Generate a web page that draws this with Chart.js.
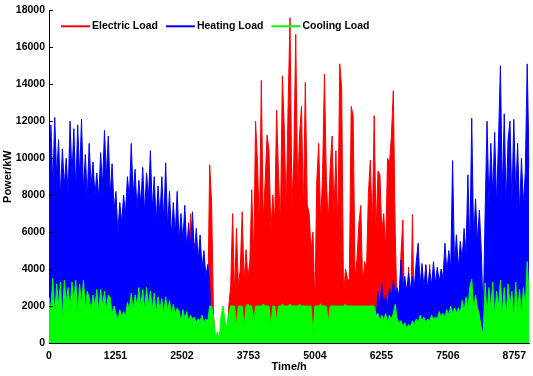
<!DOCTYPE html>
<html lang="en">
<head>
    <meta charset="UTF-8">
    <title>Electric / Heating / Cooling Load</title>
    <script src="https://cdn.jsdelivr.net/npm/chart.js"></script>
    <style>
        body { margin: 0; background: #fff; }
    </style>
</head>
<body>
    <canvas id="loadChart" width="533" height="376"></canvas>

    <script>
        // sampling step of the series (hours)
        const stepHours = 36;

        const xTicks = [0, 1251, 2502, 3753, 5004, 6255, 7506, 8757];

        const seriesNames = ["Electric Load", "Heating Load", "Cooling Load"];
        const seriesColors = ["#ff0000", "#0000ff", "#00ff00"];

        // === values (kW) ===
        const electricLoad = [
            200, 0, 200, 0, 300, 0, 200, 0, 100, 0,
            200, 0, 0, 300, 0, 0, 200, 0, 0, 100,
            0, 0, 200, 0, 0, 300, 0, 0, 200, 0,
            0, 200, 0, 0, 100, 0, 0, 300, 0, 0,
            200, 0, 0, 200, 0, 0, 100, 0, 0, 200,
            0, 0, 300, 0, 0, 200, 0, 0, 100, 0,
            0, 200, 0, 0, 300, 0, 0, 200, 0, 0,
            200, 300, 5600, 400, 7000, 500, 5400, 600, 2000, 800,
            3000, 1000, 2500, 2000, 9650, 7630, 1500, 200, 200, 200,
            200, 200, 200, 200, 2000, 3100, 7000, 2500, 6200, 3000,
            4000, 7100, 3200, 5050, 3500, 4400, 8300, 4500, 12000, 9750,
            6000, 14200, 6500, 8700, 11250, 10450, 6000, 8000, 6500, 12600,
            9000, 6500, 14450, 11600, 7000, 12850, 17600, 7500, 10000, 16700,
            8000, 11300, 12800, 7000, 14100, 7500, 7000, 5000, 6000, 2000,
            8800, 10800, 6500, 9000, 14550, 8800, 6500, 9500, 11200, 7000,
            10400, 6000, 15100, 13800, 2500, 4000, 3500, 3300, 12800, 12300,
            3500, 4500, 6450, 7450, 3000, 4400, 4000, 8150, 9900, 6000,
            12300, 6000, 9300, 9100, 6000, 7000, 5000, 10000, 9700, 11200,
            13650, 6000, 1500, 500, 4800, 6650, 500, 1000, 4100, 500,
            6950, 500, 300, 300, 300, 300, 300, 4250, 300, 4250,
            100, 0, 0, 100, 0, 0, 0, 100, 0, 0,
            0, 0, 0, 0, 0, 0, 0, 0, 0, 0,
            0, 0, 0, 0, 0, 0, 0, 0, 100, 200,
            150, 200, 100, 200, 150, 200, 100, 200, 150, 200,
            100, 200, 150, 200, 100, 200, 150, 200, 100, 200,
            150, 200
        ];

        const heatingLoad = [
            8000, 11800, 8500, 12200, 9000, 11000, 8000, 10500, 8500, 10000,
            8000, 12000, 9000, 11600, 8200, 11800, 9000, 12100, 8200, 10200,
            7800, 10800, 8500, 9800, 8000, 9200, 7800, 10300, 8500, 11500,
            9000, 11200, 8000, 9700, 7200, 8200, 5900, 7600, 6500, 8000,
            7000, 9000, 7800, 10800, 8000, 9400, 7200, 8800, 7500, 9500,
            7000, 9200, 7800, 10400, 7200, 9000, 6500, 8500, 6800, 9000,
            6500, 9750, 6200, 8200, 5800, 7600, 5800, 8200, 5500, 7000,
            5500, 7450, 5000, 6500, 5200, 7100, 4800, 6200, 4500, 5850,
            4000, 5000, 3600, 4250, 3200, 0, 0, 0, 0, 0,
            0, 0, 0, 0, 0, 0, 0, 0, 0, 0,
            0, 0, 0, 0, 0, 0, 0, 0, 0, 0,
            0, 0, 0, 0, 0, 0, 0, 0, 0, 0,
            0, 0, 0, 0, 0, 0, 0, 0, 0, 0,
            0, 0, 0, 0, 0, 0, 0, 0, 0, 0,
            0, 0, 0, 0, 0, 0, 0, 0, 0, 0,
            0, 0, 0, 0, 0, 0, 0, 0, 0, 0,
            0, 0, 0, 0, 0, 0, 0, 0, 0, 0,
            2000, 1200, 2800, 1800, 3200, 2000, 2600, 1800, 3000, 2400,
            3400, 2600, 3000, 2500, 4500, 2900, 3600, 2800, 3800, 2900,
            3600, 3000, 4400, 5400, 3100, 4300, 3000, 4200, 2900, 4000,
            3100, 4400, 3200, 4100, 3300, 4000, 3500, 5400, 3800, 5000,
            4000, 9870, 4200, 5850, 4000, 5500, 4500, 6200, 4800, 9100,
            5000, 12160, 5500, 7800, 5500, 7200, 5000, 1400, 7000, 12000,
            7500, 10800, 8000, 11400, 7500, 11000, 15000, 8000, 12400, 7500,
            11000, 12000, 7500, 12100, 8000, 10800, 7000, 10000, 7500, 9200,
            15100, 9500
        ];

        const coolingLoad = [
            2500, 1800, 3500, 1500, 3200, 2000, 3300, 1200, 3400, 2200,
            3000, 1800, 3300, 2200, 3400, 1500, 3200, 2000, 3400, 1800,
            2800, 2450, 1700, 2600, 2000, 2900, 1600, 2900, 2000, 2800,
            1800, 2600, 2450, 1600, 2000, 1600, 1200, 1800, 1400, 1700,
            1400, 2200, 1800, 2700, 1700, 2600, 2000, 3000, 1900, 2900,
            1800, 3000, 2000, 2800, 1800, 2700, 1600, 2500, 1800, 2400,
            1500, 2500, 1700, 2300, 1500, 2100, 1500, 1900, 1700, 1200,
            1800, 1300, 1700, 1200, 1500, 1300, 1400, 1100, 1300, 1200,
            1500, 1100, 1300, 1200, 2000, 2000, 1400, 300, 600, 200,
            1500, 2000, 1200, 800, 1600, 2000, 2000, 2000, 900, 2000,
            2000, 2000, 800, 2000, 2100, 2000, 2000, 1000, 2000, 2000,
            2000, 2000, 2100, 2000, 2000, 2000, 900, 2000, 2000, 1200,
            2000, 2000, 2100, 2000, 2000, 2000, 2100, 2000, 2000, 2000,
            2000, 2100, 2000, 2000, 2000, 2000, 2000, 2000, 500, 2000,
            2000, 2000, 2100, 2000, 2000, 2000, 1100, 2000, 2000, 2000,
            2000, 2000, 2000, 2000, 2000, 2100, 2000, 2000, 2000, 2000,
            2000, 2000, 2000, 2000, 2000, 2000, 2000, 2000, 2000, 2000,
            2000, 1500, 1600, 1200, 1500, 1200, 1600, 1100, 1500, 1300,
            1600, 2100, 1300, 1100, 1200, 900, 1100, 800, 1000, 900,
            1200, 1000, 1300, 1100, 1500, 1200, 1400, 1100, 1300, 1200,
            1500, 1300, 1400, 1300, 1700, 1400, 1600, 1400, 1800, 1500,
            2000, 1600, 1900, 1600, 1900, 1600, 2300, 1700, 2500, 1800,
            3000, 3450, 1800, 2600, 1900, 1500, 800, 500, 3250, 1500,
            3000, 1800, 3300, 1400, 2800, 1900, 3400, 1600, 3000, 1300,
            3200, 2000, 2800, 1200, 3300, 1700, 2900, 1400, 3000, 1900,
            4400, 2500
        ];

        const allSeries = [electricLoad, heatingLoad, coolingLoad];

        function toPoints(values) {
            return values.map((v, i) => ({ x: i * stepHours, y: v }));
        }

        Chart.defaults.font.family = "'Liberation Sans', Arial, sans-serif";
        Chart.defaults.font.weight = "bold";
        Chart.defaults.font.size = 10.5;
        Chart.defaults.color = "#000";

        // legend drawn inside the plot, line + label
        const insideLegend = {
            id: "insideLegend",
            afterDraw(chart) {
                const ctx = chart.ctx;
                const area = chart.chartArea;
                let x = area.left + 12;
                const y = area.top + 16;
                ctx.save();
                ctx.font = "bold 10.5px 'Liberation Sans', Arial, sans-serif";
                ctx.textBaseline = "middle";
                chart.data.datasets.forEach(ds => {
                    ctx.strokeStyle = ds.borderColor;
                    ctx.lineWidth = 2;
                    ctx.beginPath();
                    ctx.moveTo(x, y);
                    ctx.lineTo(x + 29, y);
                    ctx.stroke();
                    ctx.fillStyle = "#000";
                    ctx.fillText(ds.label, x + 31, y);
                    x += 31 + ctx.measureText(ds.label).width + 8;
                });
                ctx.restore();
            }
        };

        // small inward tick marks on the y axis
        const innerTicks = {
            id: "innerTicks",
            afterDraw(chart) {
                const ctx = chart.ctx;
                const yScale = chart.scales.y;
                const left = chart.chartArea.left;
                ctx.save();
                ctx.strokeStyle = "#000";
                ctx.lineWidth = 1;
                yScale.ticks.forEach(t => {
                    const py = Math.round(yScale.getPixelForValue(t.value)) + 0.5;
                    ctx.beginPath();
                    ctx.moveTo(left, py);
                    ctx.lineTo(left + 4, py);
                    ctx.stroke();
                });
                ctx.restore();
            }
        };

        const ctx = document.getElementById("loadChart").getContext("2d");
        const loadChart = new Chart(ctx, {
            type: "line",
            data: {
                datasets: allSeries.map((vals, k) => ({
                    label: seriesNames[k],
                    data: toPoints(vals),
                    borderColor: seriesColors[k],
                    backgroundColor: seriesColors[k],
                    borderWidth: 1,
                    pointRadius: 0,
                    tension: 0,
                    fill: "origin",
                    order: 2 - k
                }))
            },
            options: {
                responsive: false,
                animation: false,
                devicePixelRatio: 1,
                layout: { padding: { top: 0, right: 1, left: 0, bottom: 0 } },
                plugins: {
                    legend: { display: false },
                    tooltip: { enabled: false }
                },
                scales: {
                    x: {
                        type: "linear",
                        min: 0,
                        max: 9040,
                        afterBuildTicks: scale => {
                            scale.ticks = xTicks.map(v => ({ value: v }));
                        },
                        afterFit: scale => { scale.height = 33; },
                        ticks: {
                            padding: 7,
                            maxRotation: 0,
                            autoSkip: false,
                            callback: v => String(v)
                        },
                        grid: { display: true, drawOnChartArea: false, drawTicks: false },
                        border: { display: true, color: "#000", width: 1 },
                        title: {
                            display: true,
                            text: "Time/h",
                            font: { size: 11, weight: "bold" },
                            padding: { top: 0, bottom: 2 }
                        }
                    },
                    y: {
                        min: 0,
                        max: 18000,
                        afterFit: scale => { scale.width = 49; },
                        ticks: {
                            stepSize: 2000,
                            padding: 4,
                            callback: v => String(v)
                        },
                        grid: { display: true, drawOnChartArea: false, drawTicks: false },
                        border: { display: true, color: "#000", width: 1 },
                        title: {
                            display: true,
                            text: "Power/kW",
                            font: { size: 11, weight: "bold" },
                            padding: { top: 1, bottom: 0 }
                        }
                    }
                }
            },
            plugins: [insideLegend, innerTicks]
        });
    </script>
</body>
</html>
